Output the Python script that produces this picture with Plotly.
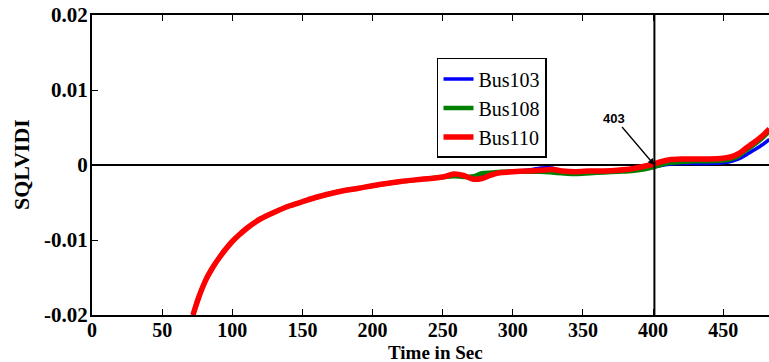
import plotly.graph_objects as go

# ---------------- data ----------------
time_s = [72, 74, 76, 78, 80, 82, 85, 88, 91, 95, 100, 105, 110, 115, 120, 130,
          140, 150, 160, 175, 190, 205, 220, 235, 250, 258, 265, 272, 278, 285,
          292, 300, 310, 320, 328, 335, 345, 355, 365, 375, 385, 393, 400, 405,
          412, 420, 430, 440, 450, 456, 461, 466, 472, 478, 483]

early = [-0.0200, -0.0188, -0.0177, -0.0167, -0.0158, -0.0150, -0.0140, -0.0131,
         -0.0123, -0.0113, -0.0102, -0.0093, -0.0085, -0.0078, -0.0072, -0.0063,
         -0.0055, -0.0049, -0.0043, -0.0036, -0.0031, -0.0026, -0.0022, -0.0019]

bus103 = early + [
    -0.0016, -0.0014, -0.0015, -0.0017, -0.0014, -0.0011, -0.0009, -0.0008,
    -0.0007, -0.0004, -0.0004, -0.0008, -0.0010, -0.0009, -0.0008, -0.0008,
    -0.0007, -0.0005, -0.0003, -0.0001, 0.0001, 0.0002, 0.0002, 0.0002, 0.0003,
    0.0005, 0.0008, 0.0013, 0.0020, 0.0027, 0.0034]

bus108 = early + [
    -0.0016, -0.0015, -0.0016, -0.0015, -0.0011, -0.0010, -0.0009, -0.0009,
    -0.0009, -0.0009, -0.0010, -0.0011, -0.0012, -0.0011, -0.0010, -0.0009,
    -0.0008, -0.0006, -0.0003, 0.0000, 0.0003, 0.0004, 0.0005, 0.0005, 0.0006,
    0.0008, 0.0012, 0.0019, 0.0027, 0.0036, 0.0045]

bus110 = early + [
    -0.0016, -0.0012, -0.0014, -0.0019, -0.0018, -0.0013, -0.0010, -0.0009,
    -0.0008, -0.0007, -0.0006, -0.0008, -0.0009, -0.0008, -0.0008, -0.0007,
    -0.0005, -0.0002, 0.0001, 0.0004, 0.0007, 0.0008, 0.0008, 0.0008, 0.0009,
    0.0011, 0.0015, 0.0022, 0.0030, 0.0039, 0.0048]

x_ticks = [0, 50, 100, 150, 200, 250, 300, 350, 400, 450]
y_ticks = [0.02, 0.01, 0, -0.01, -0.02]
y_tick_text = ["0.02", "0.01", "0", "-0.01", "-0.02"]

marker_time = 401
marker_label = "403"

serif = "Times New Roman, Liberation Serif, serif"

fig = go.Figure()
fig.add_trace(go.Scatter(x=time_s, y=bus103, mode="lines", name="Bus103",
                         line=dict(color="#0000FF", width=3.5, shape="spline", smoothing=0.8)))
fig.add_trace(go.Scatter(x=time_s, y=bus108, mode="lines", name="Bus108",
                         line=dict(color="#008000", width=4.5, shape="spline", smoothing=0.8)))
fig.add_trace(go.Scatter(x=time_s, y=bus110, mode="lines", name="Bus110",
                         line=dict(color="#FF0000", width=5.5, shape="spline", smoothing=0.8)))

fig.add_shape(type="line", xref="x", yref="paper", x0=marker_time, x1=marker_time,
              y0=0, y1=1, line=dict(color="black", width=2))

fig.add_annotation(x=marker_time, y=0, xref="x", yref="y", text=marker_label,
                   showarrow=True, arrowhead=2, arrowsize=1, arrowwidth=1.3,
                   arrowcolor="black", ax=-40, ay=-47,
                   font=dict(family="Liberation Sans", size=13, color="black", weight="bold"))

fig.add_annotation(x=0.507, y=-0.126, xref="paper", yref="paper", text="Time in Sec",
                   showarrow=False, xanchor="center", yanchor="middle",
                   font=dict(family=serif, size=19, color="black", weight="bold"))
fig.add_annotation(x=-0.105, y=0.503, xref="paper", yref="paper", text="SQLVIDI",
                   showarrow=False, textangle=-90, xanchor="center", yanchor="middle",
                   font=dict(family=serif, size=22, color="black", weight="bold"))

fig.update_layout(
    width=769, height=362,
    margin=dict(l=92, r=0, t=15, b=47),
    paper_bgcolor="white", plot_bgcolor="white",
    showlegend=True,
    legend=dict(x=0.5096, y=0.857, xanchor="left", yanchor="top",
                bgcolor="white", bordercolor="black", borderwidth=1.5,
                font=dict(family=serif, size=20, color="black"),
                itemwidth=30, tracegroupgap=0),
)
fig.update_xaxes(range=[0, 482.7], tickvals=x_ticks, ticks="inside", ticklen=6,
                 tickwidth=1, tickcolor="black", showline=True, linecolor="black",
                 linewidth=2, mirror="ticks", showgrid=False, zeroline=False,
                 ticklabelstandoff=-4,
                 tickfont=dict(family=serif, size=20, color="black", weight="bold"))
fig.update_yaxes(range=[-0.02, 0.02], tickvals=y_ticks, ticktext=y_tick_text,
                 ticks="inside", ticklen=6, tickwidth=1, tickcolor="black",
                 showline=True, linecolor="black", linewidth=2, showgrid=False,
                 zeroline=True, zerolinecolor="black", zerolinewidth=2,
                 ticklabelstandoff=-2,
                 tickfont=dict(family=serif, size=21, color="black", weight="bold"))

fig.write_html("out.html")
